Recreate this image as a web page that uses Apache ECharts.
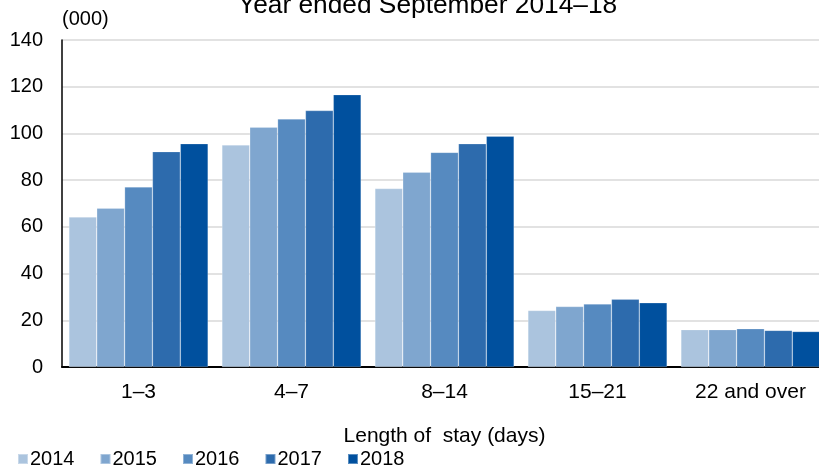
<!DOCTYPE html>
<html>
<head>
<meta charset="utf-8">
<script src="https://cdn.jsdelivr.net/npm/echarts@6/dist/echarts.min.js"></script>
<style>
  html, body { margin: 0; padding: 0; background: #fff; }
  #chart { width: 819px; height: 470px; }
</style>
</head>
<body>
<div id="chart"></div>
<script>
const categories = ['1\u20133', '4\u20137', '8\u201314', '15\u201321', '22 and over'];
const years = ['2014', '2015', '2016', '2017', '2018'];
const v2014 = [64.2, 95.1, 76.4, 24.2, 16.0];
const v2015 = [68.0, 102.7, 83.4, 25.9, 16.0];
const v2016 = [77.1, 106.2, 91.9, 27.0, 16.4];
const v2017 = [92.2, 109.8, 95.6, 29.0, 15.7];
const v2018 = [95.6, 116.6, 98.8, 27.5, 15.2];
const seriesValues = [v2014, v2015, v2016, v2017, v2018];
const colors = ['#ABC4DE', '#7FA6CF', '#568AC0', '#2D6BAD', '#00509E'];

const FONT = '"Liberation Sans", Arial, sans-serif';

const chart = echarts.init(document.getElementById('chart'), null, { renderer: 'canvas' });
chart.setOption({
  animation: false,
  color: colors,
  textStyle: { fontFamily: FONT, color: '#000' },
  title: {
    text: 'Year ended September 2014\u201318',
    left: 233,
    top: -12,
    textStyle: { fontFamily: FONT, fontSize: 26.3, fontWeight: 'normal', color: '#000' }
  },
  legend: {
    data: years,
    left: 17,
    top: 449,
    padding: 0,
    icon: 'rect',
    itemWidth: 10,
    itemHeight: 10,
    itemGap: 25,
    textStyle: { fontFamily: FONT, fontSize: 20, color: '#000', padding: [0, 0, 0, -3] }
  },
  grid: { left: 62, top: 40, right: -8, bottom: 103, containLabel: false, outerBoundsMode: 'none' },
  xAxis: {
    type: 'category',
    data: categories,
    name: 'Length of  stay (days)',
    nameLocation: 'middle',
    nameGap: 59,
    nameTextStyle: { fontFamily: FONT, fontSize: 21, color: '#000' },
    axisLine: { lineStyle: { color: '#000', width: 2 } },
    axisTick: { show: false },
    axisLabel: { fontFamily: FONT, fontSize: 21, color: '#000', margin: 15 }
  },
  yAxis: {
    type: 'value',
    min: 0,
    max: 140,
    interval: 20,
    name: '(000)',
    nameLocation: 'end',
    nameGap: 11,
    nameTextStyle: { fontFamily: FONT, fontSize: 20, color: '#000', align: 'left', verticalAlign: 'bottom' },
    axisLine: { show: true, lineStyle: { color: '#000', width: 1.5 } },
    axisTick: { show: false },
    axisLabel: { fontFamily: FONT, fontSize: 20, color: '#000', margin: 19 },
    splitLine: { lineStyle: { color: '#D9D9D9', width: 1.5 } }
  },
  series: years.map((y, i) => ({
    name: y,
    type: 'bar',
    data: seriesValues[i],
    barGap: '0%',
    barCategoryGap: '9%',
    itemStyle: { color: colors[i], borderColor: 'rgba(255,255,255,0.35)', borderWidth: 0.6 }
  }))
});
</script>
</body>
</html>
